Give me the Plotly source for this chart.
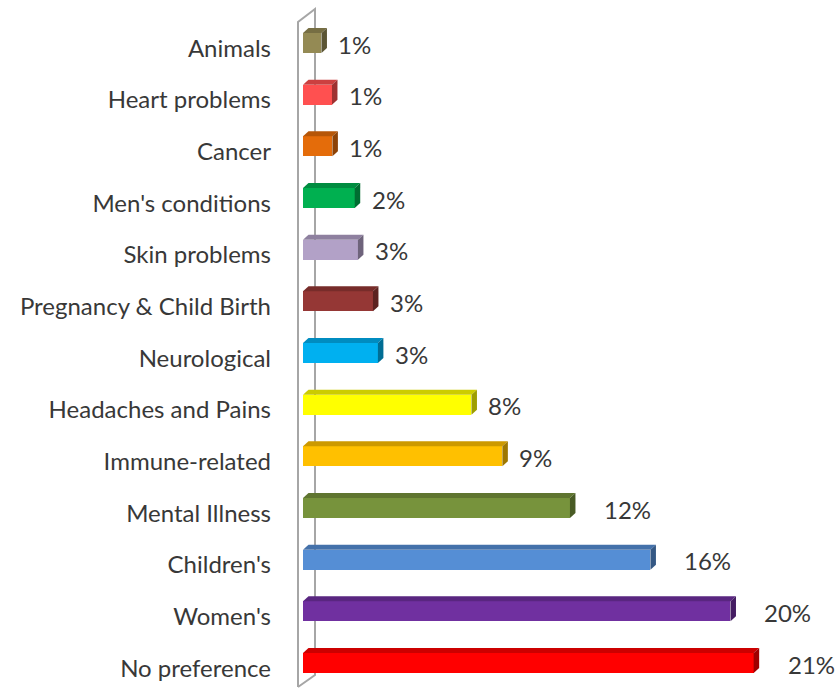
import plotly.graph_objects as go

# ---------------- data ----------------
categories = ["Animals", "Heart problems", "Cancer", "Men's conditions", "Skin problems",
              "Pregnancy & Child Birth", "Neurological", "Headaches and Pains",
              "Immune-related", "Mental Illness", "Children's", "Women's", "No preference"]
values = [0.86, 1.35, 1.37, 2.41, 2.56, 3.26, 3.49, 7.85, 9.29, 12.44, 16.19, 19.92, 21.0]
value_labels = ["1%", "1%", "1%", "2%", "3%", "3%", "3%", "8%", "9%", "12%", "16%", "20%", "21%"]
colors = ["#948A54", "#FF5050", "#E46C0A", "#00B050", "#B2A1C7", "#953735", "#00B0F0",
          "#FFFF00", "#FFC000", "#77933C", "#558ED5", "#7030A0", "#FF0000"]

# ---------------- geometry / style ----------------
W, H = 835, 689
ML, MR, MT, MB = 288, 5, 0, 0
X0_PX = 303.0          # pixel of value 0
PX_PER_UNIT = 21.46    # pixels per percent
FIRST_TICK_PX = 48.17
PX_PER_CAT = 51.67
BAR_SHIFT = 0.1        # bars sit a little above their label
BAR_W = 0.387
DEPTH_X_PX, DEPTH_Y_PX = 5.5, 5.0
FONT = "Lato, Calibri, sans-serif"
TXT = "#383838"

def px2x(px):
    return (px - X0_PX) / PX_PER_UNIT

def px2y(py):
    return (py - FIRST_TICK_PX) / PX_PER_CAT

xrange = [px2x(ML), px2x(W - MR)]
yrange = [px2y(H - MB), px2y(MT)]  # reversed
dx = DEPTH_X_PX / PX_PER_UNIT
dy = DEPTH_Y_PX / PX_PER_CAT

def shade(hexcol, f):
    h = hexcol.lstrip("#")
    r, g, b = (int(h[i:i + 2], 16) for i in (0, 2, 4))
    return "#%02X%02X%02X" % (int(r * f), int(g * f), int(b * f))

tick_pos = list(range(len(categories)))
bar_pos = [p - BAR_SHIFT for p in tick_pos]

fig = go.Figure()
fig.add_trace(go.Bar(
    x=values, y=bar_pos, orientation="h", width=BAR_W,
    marker=dict(color=colors, line=dict(width=0)),
    hoverinfo="skip", showlegend=False,
))

shapes = []
# wall lines (Excel 3D side wall)
wall_col = "#A6A6A6"
fx, bx = px2x(298), px2x(315)
shapes.append(dict(type="path", xref="x", yref="y", layer="below",
                   path=f"M {fx},{px2y(687)} L {fx},{px2y(22)} L {bx},{px2y(9)} L {bx},{px2y(675)} L {fx},{px2y(687)}",
                   line=dict(color=wall_col, width=2), fillcolor="rgba(0,0,0,0)"))

annotations = []
for v, yc, col, lab in zip(values, bar_pos, colors, value_labels):
    yt = yc - BAR_W / 2
    yb = yc + BAR_W / 2
    # top face
    shapes.append(dict(type="path", xref="x", yref="y", layer="above",
                       path=f"M 0,{yt} L {v},{yt} L {v + dx},{yt - dy} L {dx},{yt - dy} Z",
                       fillcolor=shade(col, 0.8), line=dict(width=0)))
    # side face
    shapes.append(dict(type="path", xref="x", yref="y", layer="above",
                       path=f"M {v},{yt} L {v + dx},{yt - dy} L {v + dx},{yb - dy} L {v},{yb} Z",
                       fillcolor=shade(col, 0.62), line=dict(width=0)))
    annotations.append(dict(x=v, y=yc, xref="x", yref="y", text=lab, showarrow=False,
                            xanchor="left", yanchor="middle",
                            xshift=15 if len(lab) == 2 else 32, yshift=-1,
                            font=dict(family=FONT, size=24, color=TXT)))

fig.update_layout(
    width=W, height=H,
    margin=dict(l=ML, r=MR, t=MT, b=MB),
    paper_bgcolor="white", plot_bgcolor="white",
    shapes=shapes, annotations=annotations,
    xaxis=dict(range=xrange, visible=False, fixedrange=True),
    yaxis=dict(range=yrange, tickvals=tick_pos, ticktext=categories,
               showgrid=False, zeroline=False, showline=False, ticks="",
               ticklabelstandoff=16, fixedrange=True,
               tickfont=dict(family=FONT, size=24, color=TXT)),
    bargap=0,
)

fig.write_html("out.html", config={"displayModeBar": False},
               post_script="document.body.style.margin='0';document.body.style.overflow='hidden';")
